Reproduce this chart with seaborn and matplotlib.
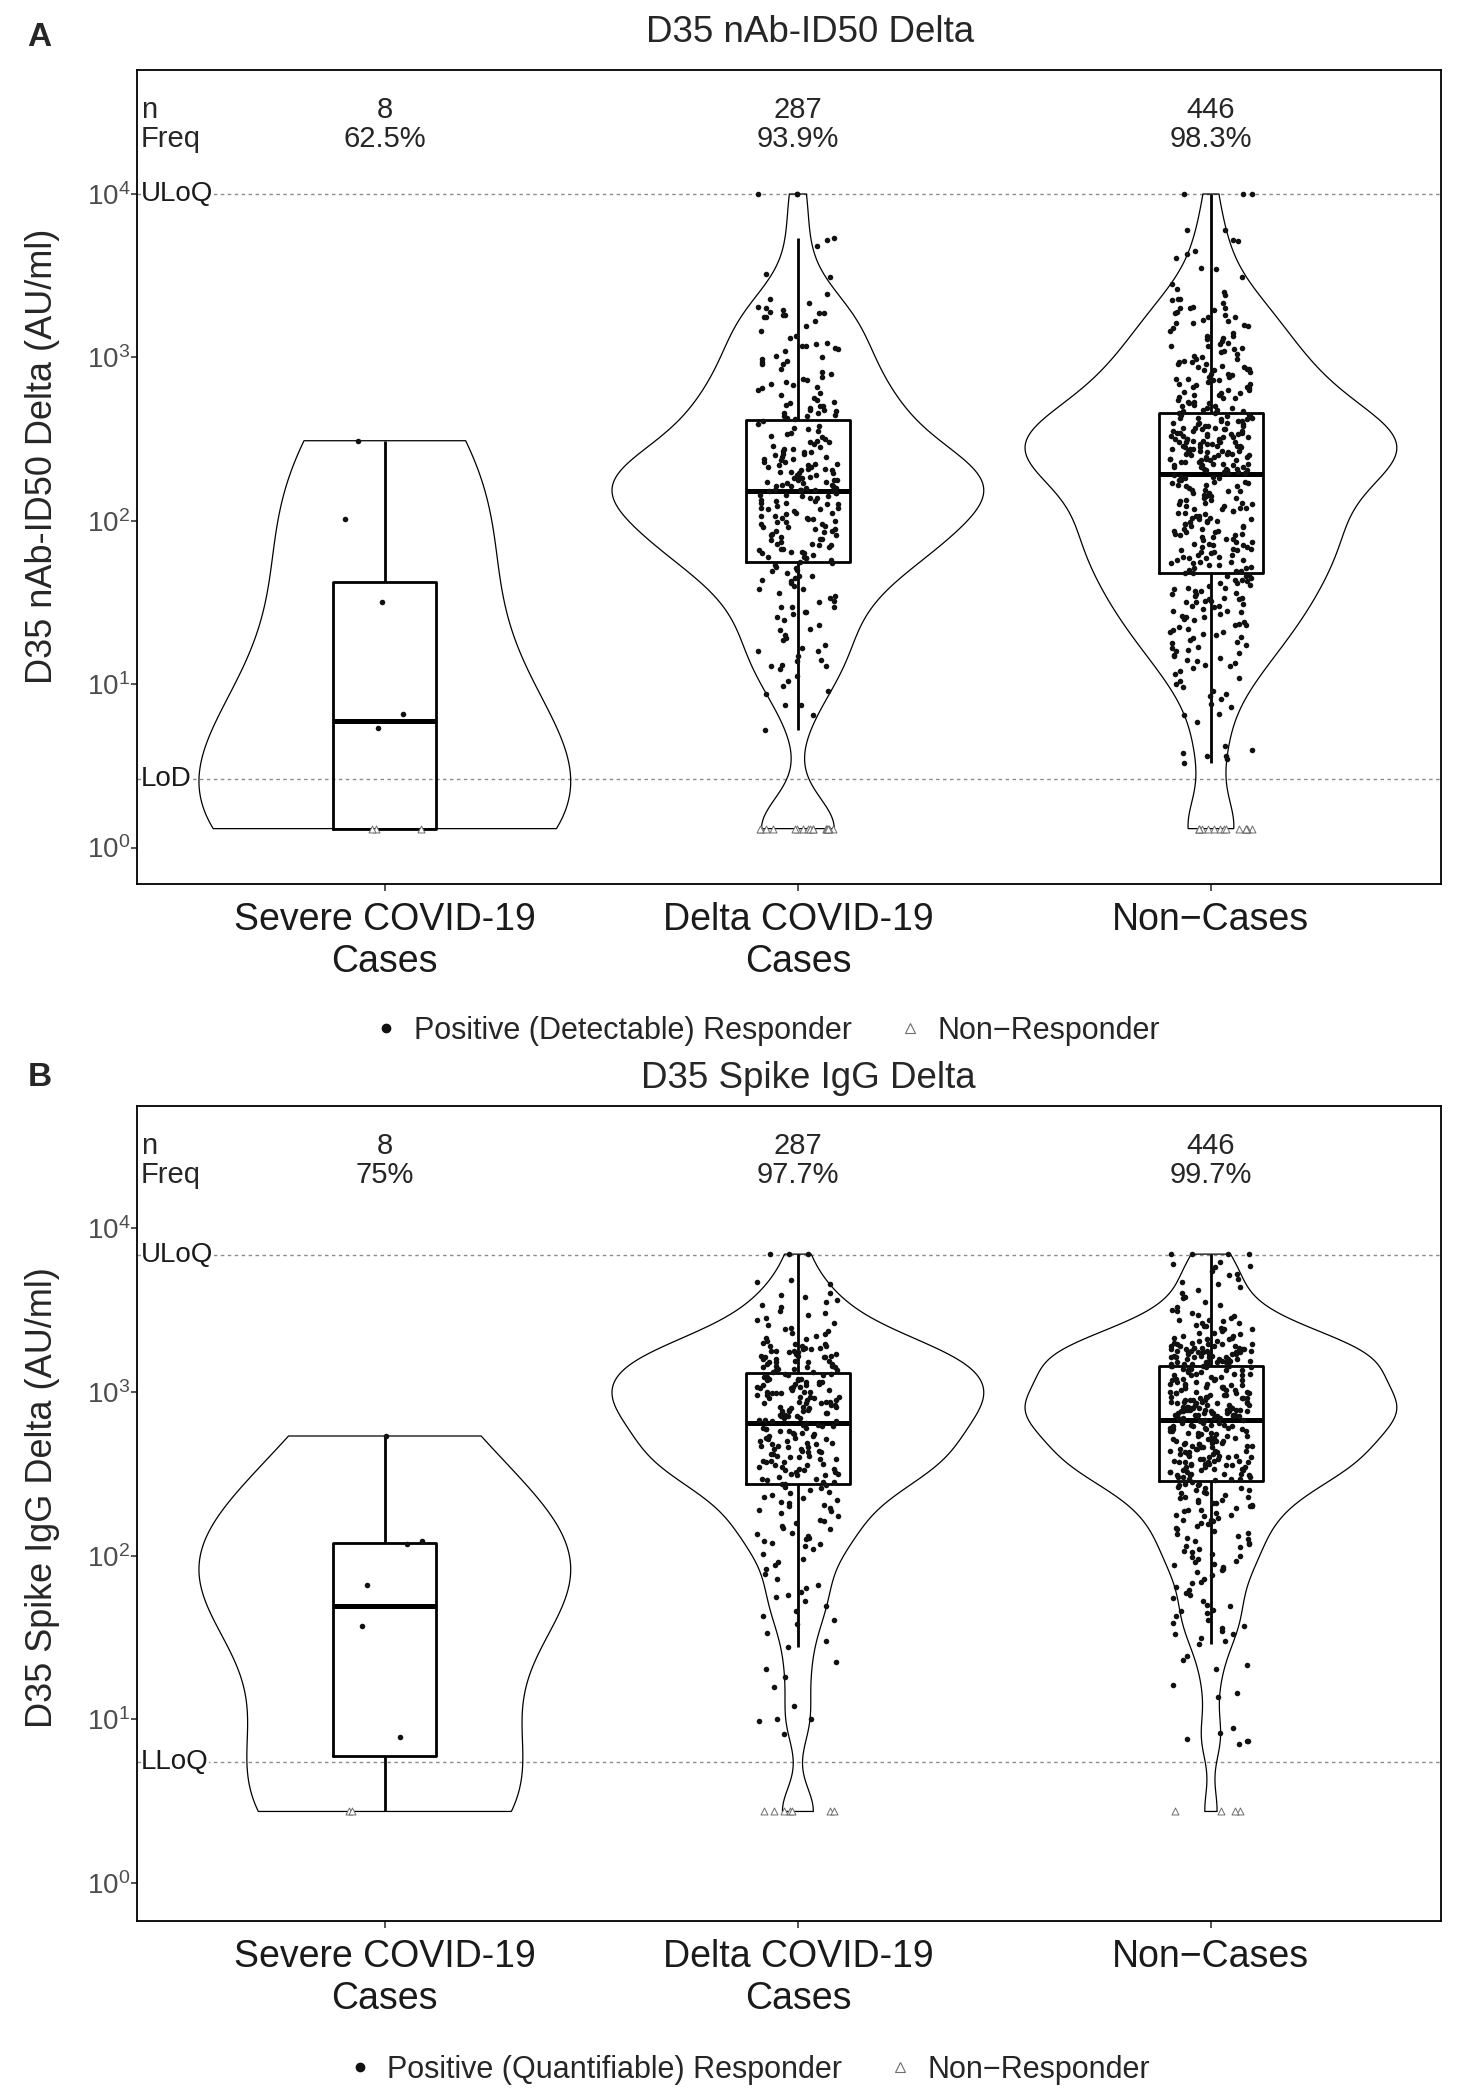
import numpy as np
import pandas as pd
import matplotlib
matplotlib.use("Agg")
import matplotlib.pyplot as plt
import matplotlib.transforms as mtransforms
from matplotlib.lines import Line2D
from matplotlib.ticker import FixedLocator, LogFormatterMathtext, NullLocator
import seaborn as sns

sns.set_style("white")
plt.rcParams['font.family'] = ['Liberation Sans', 'DejaVu Sans']
plt.rcParams['mathtext.fontset'] = 'custom'
plt.rcParams['mathtext.rm'] = 'Liberation Sans'
plt.rcParams['axes.unicode_minus'] = True

# categories
categories = ["Severe COVID-19\nCases", "Delta COVID-19\nCases", "Non\u2212Cases"]

# ---------------- panel A: D35 nAb-ID50 Delta (log10 values of responders) ----------------
nab_severe_log = [2.49, 2.01, 1.50, 0.82, 0.73]

nab_delta_log = [
    4.00, 4.00, 4.00, 3.73, 3.72, 3.68, 3.51, 3.49,
    3.39, 3.36, 3.33, 3.31, 3.30, 3.29, 3.28, 3.27, 3.27, 3.26, 3.26, 3.25, 3.25,
    3.22, 3.19, 3.16, 3.13, 3.12,
    3.09, 3.08, 3.07, 3.07, 3.06, 3.05, 3.04, 3.01, 3.00, 2.99, 2.98, 2.97, 2.96, 2.96,
    2.93, 2.91, 2.90, 2.88, 2.87, 2.86, 2.85, 2.84, 2.83, 2.82, 2.81, 2.80,
    2.78, 2.77, 2.75, 2.74, 2.73, 2.72, 2.71, 2.70, 2.70, 2.69, 2.68, 2.68, 2.67, 2.66,
    2.66, 2.65, 2.64, 2.64, 2.63, 2.62,
    2.61, 2.59, 2.58, 2.57, 2.56, 2.55, 2.54, 2.53, 2.52, 2.51, 2.50, 2.49, 2.48, 2.48,
    2.47, 2.46, 2.45, 2.44, 2.44, 2.43, 2.42, 2.42, 2.41, 2.41, 2.40, 2.39, 2.39, 2.38,
    2.38, 2.37, 2.36, 2.36, 2.35, 2.35, 2.34, 2.34, 2.33, 2.32, 2.32, 2.31, 2.31, 2.30,
    2.30, 2.29, 2.29, 2.28, 2.28, 2.27, 2.27, 2.26, 2.26, 2.25, 2.25, 2.24, 2.24, 2.23,
    2.23, 2.22, 2.22, 2.21, 2.21, 2.21, 2.20, 2.20, 2.20, 2.19, 2.19, 2.19, 2.19, 2.25,
    2.33,
    2.18, 2.18, 2.17, 2.17, 2.16, 2.16, 2.15, 2.14, 2.14, 2.13, 2.12, 2.12, 2.11, 2.10,
    2.10, 2.09, 2.08, 2.08, 2.07, 2.06, 2.05, 2.05, 2.04, 2.03, 2.02, 2.02, 2.01, 2.00,
    1.99, 1.99, 1.98, 1.97, 1.96, 1.95, 1.95, 1.94, 1.93, 1.92, 1.91, 1.91, 1.90, 1.89,
    1.88, 1.87, 1.86, 1.86, 1.85, 1.84, 1.83, 1.83, 1.82, 1.81, 1.80, 1.80, 1.79, 1.78,
    1.77, 1.77, 1.76, 1.75, 2.15, 2.11, 2.07, 2.03, 1.98, 1.94, 1.89, 1.85, 1.81, 1.78,
    2.01, 1.96,
    1.74, 1.73, 1.72, 1.71, 1.70, 1.69, 1.68, 1.66, 1.65, 1.64, 1.63, 1.62, 1.60, 1.58,
    1.56, 1.54, 1.53, 1.51, 1.50, 1.47, 1.47, 1.47, 1.44, 1.44, 1.43, 1.41, 1.39, 1.34,
    1.33, 1.30, 1.28, 1.27, 1.24, 1.22, 1.20, 1.20, 1.17, 1.15, 1.14, 1.12, 1.11, 1.11,
    1.09, 1.05, 0.96, 0.94, 0.87, 0.87, 0.81, 0.72, 1.36, 1.58, 1.66, 1.02, 0.99,
]

nab_noncase_log = [
    4.00, 4.00, 4.00, 3.78, 3.78, 3.72, 3.71, 3.65, 3.63, 3.61,
    3.55, 3.54, 3.49, 3.45, 3.42, 3.40,
    3.38, 3.36, 3.36, 3.35, 3.33, 3.31, 3.30, 3.30, 3.30, 3.29, 3.28, 3.27, 3.26, 3.25,
    3.25, 3.23, 3.22, 3.21, 3.21, 3.20,
    3.19, 3.18, 3.16, 3.15, 3.13, 3.13, 3.12, 3.11, 3.09, 3.08, 3.07, 3.07, 3.06, 3.05,
    3.04, 3.03, 3.02, 3.01, 3.00, 3.10,
    2.99, 2.99, 2.98, 2.97, 2.96, 2.96, 2.95, 2.94, 2.94, 2.93, 2.92, 2.92, 2.91, 2.90,
    2.90, 2.89, 2.88, 2.88, 2.87, 2.87, 2.86, 2.86, 2.85, 2.97, 2.93,
    2.84, 2.84, 2.83, 2.82, 2.82, 2.81, 2.80, 2.80, 2.79, 2.78, 2.78, 2.77, 2.77, 2.76,
    2.75, 2.75, 2.74, 2.73, 2.73, 2.72, 2.72, 2.71, 2.70, 2.70, 2.69, 2.69, 2.68, 2.68,
    2.67, 2.67,
    2.66, 2.66, 2.65, 2.65, 2.64, 2.64, 2.63, 2.63, 2.62, 2.62, 2.61, 2.61, 2.60, 2.60,
    2.59, 2.59, 2.58, 2.58, 2.57, 2.57, 2.56, 2.56, 2.55, 2.55, 2.54, 2.54, 2.53, 2.53,
    2.53, 2.52, 2.52, 2.51, 2.51, 2.50, 2.50, 2.50, 2.49, 2.49, 2.48, 2.48, 2.48, 2.47,
    2.47, 2.46, 2.46, 2.46, 2.45, 2.45, 2.44, 2.44, 2.43, 2.43, 2.43, 2.42, 2.42, 2.41,
    2.41, 2.40, 2.40, 2.39, 2.39, 2.38, 2.38, 2.37, 2.37, 2.36, 2.36, 2.35, 2.35, 2.34,
    2.34, 2.33, 2.33, 2.32, 2.32, 2.31, 2.31, 2.30, 2.30, 2.29, 2.29, 2.58, 2.55, 2.52,
    2.49, 2.47, 2.44, 2.42, 2.39, 2.36, 2.33, 2.30, 2.63, 2.60, 2.57, 2.51, 2.45, 2.40,
    2.35, 2.31, 2.54, 2.46, 2.38, 2.32, 2.50, 2.43, 2.37, 2.61, 2.41, 2.34, 2.56, 2.48,
    2.28, 2.27, 2.27, 2.26, 2.25, 2.25, 2.24, 2.23, 2.23, 2.22, 2.21, 2.21, 2.20, 2.19,
    2.19, 2.18, 2.17, 2.17, 2.16, 2.15, 2.15, 2.14, 2.13, 2.13, 2.12, 2.11, 2.11, 2.10,
    2.09, 2.09, 2.08, 2.07, 2.07, 2.06, 2.05, 2.05, 2.04, 2.03, 2.03, 2.02, 2.01, 2.01,
    2.00, 1.99, 1.99, 1.98, 1.97, 1.97, 1.96, 1.95, 1.95, 1.94, 1.93, 1.93, 1.92, 1.91,
    1.91, 1.90, 1.89, 1.89, 1.88, 1.87, 1.87, 1.86, 1.85, 1.85, 1.84, 1.83, 1.83, 1.82,
    1.81, 1.81, 1.80, 1.79, 1.79, 1.78, 1.77, 1.77, 1.76, 1.75, 1.75, 1.74, 1.73, 1.73,
    1.72, 1.71, 1.71, 1.70, 1.69, 1.69, 2.26, 2.22, 2.18, 2.14, 2.10, 2.06, 2.02, 1.98,
    1.94, 1.90, 1.86, 1.82, 1.78, 1.74, 2.24, 2.16, 2.08, 2.00, 1.92, 1.84, 1.76,
    1.68, 1.68, 1.67, 1.66, 1.66, 1.65, 1.64, 1.64, 1.63, 1.62, 1.62, 1.61, 1.60, 1.59,
    1.59, 1.58, 1.57, 1.57, 1.56, 1.55, 1.55, 1.54, 1.53, 1.53, 1.52, 1.52, 1.51, 1.51,
    1.50, 1.50, 1.49, 1.48, 1.48, 1.47, 1.46, 1.45, 1.45, 1.44, 1.43, 1.42, 1.41, 1.41,
    1.40, 1.39, 1.38, 1.37, 1.36, 1.36, 1.35, 1.34, 1.33, 1.32, 1.32, 1.31, 1.30,
    1.29, 1.28, 1.27, 1.26, 1.25, 1.24, 1.23, 1.22, 1.21, 1.20, 1.19, 1.18, 1.17, 1.16,
    1.15, 1.14, 1.13, 1.12, 1.11, 1.10, 1.08, 1.06, 1.04, 1.02, 1.00, 0.98, 0.96, 0.94,
    0.93, 0.91, 0.88, 0.86, 0.82, 0.81, 0.77, 0.60, 0.56, 0.56, 0.52, 0.62, 0.54, 0.58,
]

nab_nonresp_count = [3, 17, 15]
nab_uloq = 10000
nab_lod = 2.612
nab_n = ["8", "287", "446"]
nab_freq = ["62.5%", "93.9%", "98.3%"]

# ---------------- panel B: D35 Spike IgG Delta (log10 values of responders) ----------------
igg_severe_log = [2.73, 2.09, 2.07, 1.82, 1.57, 0.89]

igg_delta_log = [
    3.84, 3.84, 3.84, 3.68, 3.67, 3.66,
    3.60, 3.59, 3.58, 3.56, 3.55, 3.53, 3.52, 3.49, 3.48, 3.47, 3.45, 3.44, 3.42, 3.41,
    3.39, 3.38, 3.37, 3.36, 3.35, 3.34, 3.33, 3.32, 3.31, 3.30,
    3.29, 3.29, 3.28, 3.28, 3.27, 3.27, 3.26, 3.26, 3.25, 3.25, 3.24, 3.24, 3.23, 3.23,
    3.22, 3.22, 3.21, 3.21, 3.20, 3.20, 3.19, 3.19, 3.18, 3.18, 3.17, 3.17, 3.16, 3.16,
    3.15, 3.15, 3.14, 3.14, 3.13, 3.13, 3.12, 3.12, 3.28, 3.25, 3.21, 3.18, 3.15, 3.22,
    3.11, 3.11, 3.10, 3.10, 3.09, 3.09, 3.08, 3.08, 3.07, 3.07, 3.06, 3.06, 3.05, 3.05,
    3.04, 3.04, 3.03, 3.03, 3.02, 3.02, 3.01, 3.01, 3.00, 3.00, 2.99, 2.99, 2.98, 2.98,
    2.97, 2.97, 2.96, 2.96, 2.95, 2.95, 2.94, 2.94, 2.93, 2.93, 2.92, 2.92, 2.91, 2.91,
    2.90, 2.90, 2.89, 2.89, 2.88, 2.88, 2.87, 2.87, 2.86, 2.86, 2.85, 2.85, 2.84, 2.84,
    2.83, 2.83, 2.82, 2.82, 3.06, 3.03, 3.00, 2.97, 2.94, 2.91, 2.88, 2.85, 2.99, 2.93,
    3.08,
    2.81, 2.80, 2.80, 2.79, 2.79, 2.78, 2.77, 2.77, 2.76, 2.75, 2.75, 2.74, 2.73, 2.73,
    2.72, 2.71, 2.71, 2.70, 2.69, 2.69, 2.68, 2.67, 2.67, 2.66, 2.65, 2.65, 2.64, 2.63,
    2.63, 2.62, 2.61, 2.61, 2.60, 2.59, 2.59, 2.58, 2.57, 2.57, 2.56, 2.55, 2.55, 2.54,
    2.53, 2.53, 2.52, 2.51, 2.51, 2.50, 2.49, 2.49, 2.48, 2.47, 2.47, 2.46, 2.45, 2.45,
    2.44, 2.44, 2.78, 2.74, 2.70, 2.66, 2.62, 2.58, 2.54, 2.50, 2.76, 2.68, 2.60, 2.52,
    2.72, 2.64,
    2.43, 2.42, 2.41, 2.40, 2.39, 2.38, 2.37, 2.36, 2.35, 2.34, 2.33, 2.32, 2.31, 2.30,
    2.29, 2.28, 2.27, 2.26, 2.24, 2.22, 2.21, 2.20, 2.18, 2.17, 2.16, 2.14, 2.13, 2.12,
    2.11, 2.10, 2.09, 2.08, 2.07, 2.06, 2.04, 2.01, 1.98, 1.96, 1.94, 1.92, 1.89, 1.86,
    1.82, 1.80, 1.78, 1.76, 1.75, 1.72, 1.69, 1.66, 1.63, 1.61, 1.58, 1.53, 1.48, 1.44,
    1.31, 1.35, 1.26, 1.20, 1.08, 0.99, 1.00, 1.00, 0.91,
]

igg_noncase_log = [
    3.84, 3.84, 3.84, 3.84, 3.79, 3.78, 3.77, 3.76, 3.74, 3.72, 3.71, 3.69, 3.67, 3.66,
    3.64, 3.62, 3.60, 3.58, 3.57, 3.55, 3.53, 3.52, 3.50, 3.49, 3.48, 3.47, 3.46, 3.45,
    3.44, 3.44, 3.43, 3.42, 3.42, 3.41, 3.40, 3.40, 3.39, 3.38, 3.38, 3.37, 3.36, 3.36,
    3.35, 3.34, 3.34, 3.33, 3.33, 3.32, 3.32, 3.31, 3.31, 3.30, 3.30,
    3.29, 3.29, 3.29, 3.28, 3.28, 3.28, 3.27, 3.27, 3.27, 3.26, 3.26, 3.26, 3.25, 3.25,
    3.25, 3.24, 3.24, 3.24, 3.23, 3.23, 3.23, 3.22, 3.22, 3.22, 3.21, 3.21, 3.21, 3.20,
    3.20, 3.20, 3.19, 3.19, 3.19, 3.18, 3.18, 3.18, 3.17, 3.17, 3.17, 3.16, 3.16, 3.16,
    3.28, 3.25, 3.22, 3.19, 3.27, 3.24, 3.21, 3.18, 3.26, 3.20, 3.23, 3.17, 3.29, 3.19,
    3.21, 3.24,
    3.16, 3.15, 3.15, 3.14, 3.14, 3.13, 3.13, 3.12, 3.12, 3.11, 3.11, 3.10, 3.10, 3.09,
    3.09, 3.08, 3.08, 3.07, 3.07, 3.06, 3.06, 3.05, 3.05, 3.04, 3.04, 3.03, 3.03, 3.02,
    3.02, 3.01, 3.01, 3.00, 3.00, 2.99, 2.99, 2.98, 2.98, 2.97, 2.97, 2.96, 2.96, 2.95,
    2.95, 2.94, 2.94, 2.93, 2.93, 2.92, 2.92, 2.91, 2.91, 2.90, 2.90, 2.90, 2.89, 2.89,
    2.89, 2.88, 2.88, 2.88, 2.87, 2.87, 2.87, 2.86, 2.86, 2.86, 2.85, 2.85, 2.85, 2.84,
    2.84, 2.84, 2.84, 2.95, 2.92, 2.89, 2.86, 2.98, 3.01, 2.93, 3.04, 3.07, 2.90, 2.87,
    2.96, 2.99, 3.10, 2.88, 2.94, 3.02, 2.91, 2.85, 3.13, 2.97, 2.89, 3.05, 2.92, 2.86,
    3.00, 2.94, 2.88, 2.91, 3.08, 2.96, 2.87, 2.93, 3.03, 2.90, 2.99, 3.11, 2.95, 2.89,
    2.83, 2.83, 2.82, 2.82, 2.81, 2.81, 2.80, 2.80, 2.79, 2.79, 2.78, 2.78, 2.77, 2.77,
    2.76, 2.76, 2.75, 2.75, 2.74, 2.74, 2.73, 2.73, 2.72, 2.72, 2.71, 2.71, 2.70, 2.70,
    2.69, 2.69, 2.68, 2.68, 2.67, 2.67, 2.66, 2.66, 2.65, 2.65, 2.64, 2.64, 2.63, 2.63,
    2.62, 2.62, 2.61, 2.61, 2.60, 2.60, 2.59, 2.59, 2.58, 2.58, 2.57, 2.57, 2.56, 2.56,
    2.55, 2.55, 2.54, 2.54, 2.53, 2.53, 2.52, 2.52, 2.51, 2.51, 2.50, 2.50, 2.49, 2.49,
    2.48, 2.48, 2.47, 2.47, 2.47, 2.80, 2.76, 2.72, 2.68, 2.64, 2.60, 2.56, 2.52, 2.48,
    2.78, 2.74, 2.70, 2.66, 2.62, 2.58, 2.54, 2.50, 2.82, 2.71, 2.63, 2.55, 2.79, 2.69,
    2.59, 2.51, 2.75, 2.65, 2.57, 2.77, 2.67, 2.53, 2.61, 2.73, 2.49, 2.81, 2.57,
    2.46, 2.45, 2.45, 2.44, 2.44, 2.43, 2.43, 2.42, 2.41, 2.41, 2.40, 2.40, 2.39, 2.38,
    2.38, 2.37, 2.36, 2.36, 2.35, 2.34, 2.34, 2.33, 2.32, 2.32, 2.31, 2.30, 2.30, 2.29,
    2.28, 2.28, 2.27, 2.26, 2.25, 2.25, 2.24, 2.23, 2.22, 2.22, 2.21, 2.20,
    2.19, 2.18, 2.17, 2.16, 2.15, 2.14, 2.13, 2.12, 2.11, 2.10, 2.09, 2.08, 2.07, 2.06,
    2.05, 2.04, 2.03, 2.02, 2.01, 2.00, 1.99, 1.98, 1.97, 1.96, 1.95, 1.94, 1.93, 1.92,
    1.91, 1.90, 1.88, 1.86, 1.84, 1.83, 1.81, 1.79, 1.77, 1.76, 1.74, 1.72, 1.70, 1.69,
    1.67, 1.66, 1.65, 1.63, 1.61, 1.59, 1.57, 1.56, 1.54, 1.52, 1.52, 1.50, 1.48, 1.46,
    1.39, 1.36, 1.33, 1.31, 1.21, 1.16, 1.14, 0.95, 0.92, 0.88, 0.87, 0.87, 0.85,
]

igg_nonresp_count = [2, 7, 4]
igg_uloq = 6840
igg_lloq = 5.49
igg_n = ["8", "287", "446"]
igg_freq = ["75%", "97.7%", "99.7%"]


def build_frame(resp_logs, nonresp_counts, nonresp_value):
    rows = []
    for cat, vals, k in zip(categories, resp_logs, nonresp_counts):
        for v in vals:
            rows.append((cat, 10 ** v, "resp"))
        for _ in range(k):
            rows.append((cat, nonresp_value, "nonresp"))
    return pd.DataFrame(rows, columns=["group", "value", "status"])


def nrd0(kde):
    # bandwidth like R's bw.nrd0 (what ggplot's violin uses)
    x = kde.dataset[0]
    sd = np.std(x, ddof=1)
    q75, q25 = np.percentile(x, [75, 25])
    lo = min(sd, (q75 - q25) / 1.34)
    if lo <= 0:
        lo = sd
    return 0.9 * lo * len(x) ** -0.2 / sd


def draw_panel(ax, df, ylim_log, lines, n_txt, freq_txt, seed):
    trans = mtransforms.blended_transform_factory(ax.transAxes, ax.transData)
    for yv, name in lines:
        ax.axhline(yv, color="#8c8c8c", lw=1.0, ls=(0, (2.5, 2.5)), zorder=0)
        ax.text(0.003, yv, name, transform=trans, ha="left", va="center",
                fontsize=20, color="#1a1a1a", zorder=1,
                bbox=dict(facecolor="white", edgecolor="none", pad=0.3))

    sns.violinplot(data=df, x="group", y="value", order=categories, log_scale=True,
                   cut=0, density_norm="width", width=0.9, inner=None, fill=False,
                   color="black", linewidth=0.9, bw_method=nrd0, gridsize=512, ax=ax)
    sns.boxplot(data=df, x="group", y="value", order=categories, log_scale=True,
                width=0.25, fill=False, color="black", linewidth=2.0,
                showcaps=False, showfliers=False,
                medianprops=dict(linewidth=3.6), ax=ax)
    np.random.seed(seed)
    sns.stripplot(data=df[df.status == "resp"], x="group", y="value", order=categories,
                  log_scale=True, jitter=0.1, size=4.0, color="#111111", linewidth=0,
                  zorder=3, ax=ax)
    sns.stripplot(data=df[df.status == "nonresp"], x="group", y="value", order=categories,
                  log_scale=True, jitter=0.1, size=5, marker="^", color="white",
                  edgecolor="#6e6e6e", linewidth=0.7, zorder=3, ax=ax)

    ax.set_xlim(-0.6, 2.557)
    ax.set_ylim(10 ** ylim_log[0], 10 ** ylim_log[1])
    ax.yaxis.set_major_locator(FixedLocator([1, 10, 100, 1000, 10000]))
    ax.yaxis.set_major_formatter(LogFormatterMathtext())
    ax.yaxis.set_minor_locator(NullLocator())
    ax.set_xticks([0, 1, 2])
    ax.set_xticklabels(categories)
    ax.set_xlabel("")
    ax.set_ylabel("")
    ax.tick_params(axis="x", length=5, width=1.1, pad=8, labelsize=27,
                   labelcolor="#1a1a1a", bottom=True)
    ax.tick_params(axis="y", length=4, width=1.1, pad=1, labelsize=20,
                   labelcolor="#4d4d4d", left=True)
    for sp in ax.spines.values():
        sp.set_visible(True)
        sp.set_color("black")
        sp.set_linewidth(1.3)

    # n / Freq header
    ttrans = mtransforms.blended_transform_factory(ax.transData, ax.transAxes)
    ax.text(0.003, 0.951, "n", transform=ax.transAxes, ha="left", va="center", fontsize=21)
    ax.text(0.003, 0.915, "Freq", transform=ax.transAxes, ha="left", va="center", fontsize=21)
    for i in range(3):
        ax.text(i, 0.951, n_txt[i], transform=ttrans, ha="center", va="center", fontsize=21)
        ax.text(i, 0.915, freq_txt[i], transform=ttrans, ha="center", va="center", fontsize=21)


def add_legend(ax, label, x, y):
    handles = [
        Line2D([], [], ls="", marker="o", color="#111111", markersize=6),
        Line2D([], [], ls="", marker="^", markerfacecolor="white",
               markeredgecolor="#6e6e6e", markeredgewidth=0.8, markersize=7),
    ]
    ax.legend(handles, [label, "Non\u2212Responder"], loc="center",
              bbox_to_anchor=(x, y), ncol=2, frameon=False, fontsize=22,
              handletextpad=0.4, columnspacing=1.4, handlelength=1.0)


W, H = 1470, 2100
fig = plt.figure(figsize=(W / 100, H / 100), dpi=100)
fig.patch.set_facecolor("white")

axA = fig.add_axes([137 / W, 1 - 884 / H, 1304 / W, 814 / H])
axB = fig.add_axes([137 / W, 1 - 1921 / H, 1304 / W, 815 / H])

dfA = build_frame([nab_severe_log, nab_delta_log, nab_noncase_log], nab_nonresp_count, nab_lod / 2)
dfB = build_frame([igg_severe_log, igg_delta_log, igg_noncase_log], igg_nonresp_count, igg_lloq / 2)

draw_panel(axA, dfA, (-0.223, 4.759), [(nab_uloq, "ULoQ"), (nab_lod, "LoD")],
           nab_n, nab_freq, seed=11)
draw_panel(axB, dfB, (-0.230, 4.744), [(igg_uloq, "ULoQ"), (igg_lloq, "LLoQ")],
           igg_n, igg_freq, seed=23)

add_legend(axA, "Positive (Detectable) Responder", 0.482, -0.180)
add_legend(axB, "Positive (Quantifiable) Responder", 0.468, -0.183)

# titles, panel letters, y labels
fig.text(810 / W, 1 - 33 / H, "D35 nAb-ID50 Delta", ha="center", va="center", fontsize=26.5)
fig.text(808 / W, 1 - 1079 / H, "D35 Spike IgG Delta", ha="center", va="center", fontsize=26.5)
fig.text(39 / W, 1 - 38 / H, "A", ha="center", va="center", fontsize=24, fontweight="bold")
fig.text(40 / W, 1 - 1077 / H, "B", ha="center", va="center", fontsize=24, fontweight="bold")
fig.text(43 / W, 1 - 456 / H, "D35 nAb-ID50 Delta (AU/ml)", rotation=90,
         ha="center", va="center", fontsize=26)
fig.text(43 / W, 1 - 1498 / H, "D35 Spike IgG Delta (AU/ml)", rotation=90,
         ha="center", va="center", fontsize=26)

fig.savefig("out.png", dpi=100, facecolor="white")
